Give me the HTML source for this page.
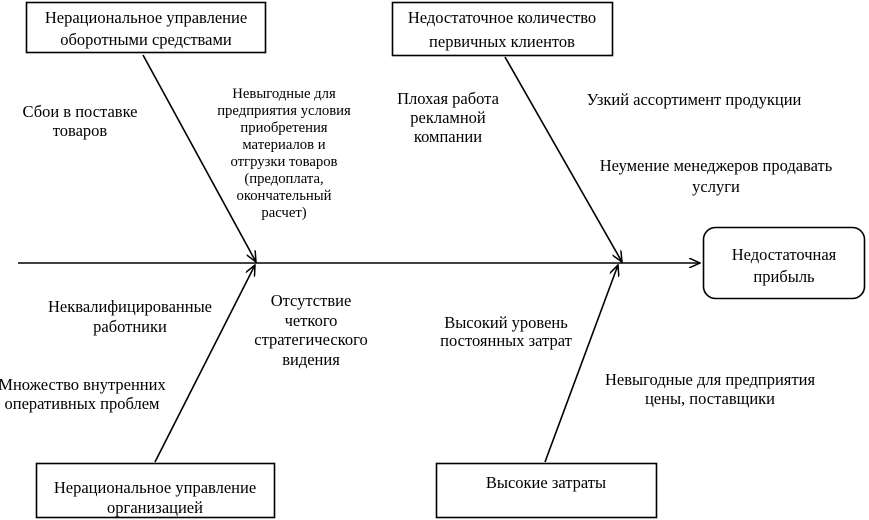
<!DOCTYPE html>
<html><head><meta charset="utf-8"><style>
html,body{margin:0;padding:0;background:#fff;}
svg{display:block;}
text{font-family:"Liberation Serif","Noto Serif CJK SC",serif;font-size:16.5px;fill:#000;}
.s{font-size:14.7px;}
</style></head><body>
<svg width="869" height="520" viewBox="0 0 869 520" xmlns="http://www.w3.org/2000/svg">
<defs><marker id="a" markerWidth="12" markerHeight="10" refX="11" refY="5" orient="auto" markerUnits="userSpaceOnUse"><path d="M0,0 L11,5 L0,10" fill="none" stroke="#000" stroke-width="1.5"/></marker></defs>
<g stroke="#000" stroke-width="1.6" fill="none">
<rect x="26.5" y="2.5" width="239" height="50"/>
<rect x="392.5" y="2.5" width="220" height="53"/>
<rect x="36.5" y="463.5" width="238" height="54"/>
<rect x="436.5" y="463.5" width="220" height="54"/>
<rect x="703.5" y="227.5" width="161" height="71" rx="12"/>
<line x1="18" y1="263" x2="700" y2="263" marker-end="url(#a)"/>
<line x1="143" y1="55" x2="256" y2="262" marker-end="url(#a)"/>
<line x1="505" y1="57" x2="622" y2="262" marker-end="url(#a)"/>
<line x1="155" y1="462" x2="255" y2="265" marker-end="url(#a)"/>
<line x1="545" y1="462" x2="618" y2="265" marker-end="url(#a)"/>
</g>
<g text-anchor="middle">
<text x="146" y="23">Нерациональное управление</text>
<text x="146" y="45">оборотными средствами</text>
<text x="502" y="23">Недостаточное количество</text>
<text x="502" y="47">первичных клиентов</text>
<text x="155" y="493">Нерациональное управление</text>
<text x="155" y="513">организацией</text>
<text x="546" y="488">Высокие затраты</text>
<text x="784" y="260">Недостаточная</text>
<text x="784" y="282">прибыль</text>
<text x="80" y="117">Сбои в поставке</text>
<text x="80" y="136">товаров</text>
<text x="284" y="98" class="s">Невыгодные для</text>
<text x="284" y="115" class="s">предприятия условия</text>
<text x="284" y="132" class="s">приобретения</text>
<text x="284" y="149" class="s">материалов и</text>
<text x="284" y="166" class="s">отгрузки товаров</text>
<text x="284" y="183" class="s">(предоплата,</text>
<text x="284" y="200" class="s">окончательный</text>
<text x="284" y="217" class="s">расчет)</text>
<text x="448" y="104">Плохая работа</text>
<text x="448" y="123">рекламной</text>
<text x="448" y="142">компании</text>
<text x="694" y="105">Узкий ассортимент продукции</text>
<text x="716" y="171">Неумение менеджеров продавать</text>
<text x="716" y="192">услуги</text>
<text x="130" y="312">Неквалифицированные</text>
<text x="130" y="332">работники</text>
<text x="311" y="306">Отсутствие</text>
<text x="311" y="326">четкого</text>
<text x="311" y="345">стратегического</text>
<text x="311" y="365">видения</text>
<text x="82" y="390">Множество внутренних</text>
<text x="82" y="409">оперативных проблем</text>
<text x="506" y="328">Высокий уровень</text>
<text x="506" y="346">постоянных затрат</text>
<text x="710" y="385">Невыгодные для предприятия</text>
<text x="710" y="404">цены, поставщики</text>
</g>
</svg>
</body></html>
